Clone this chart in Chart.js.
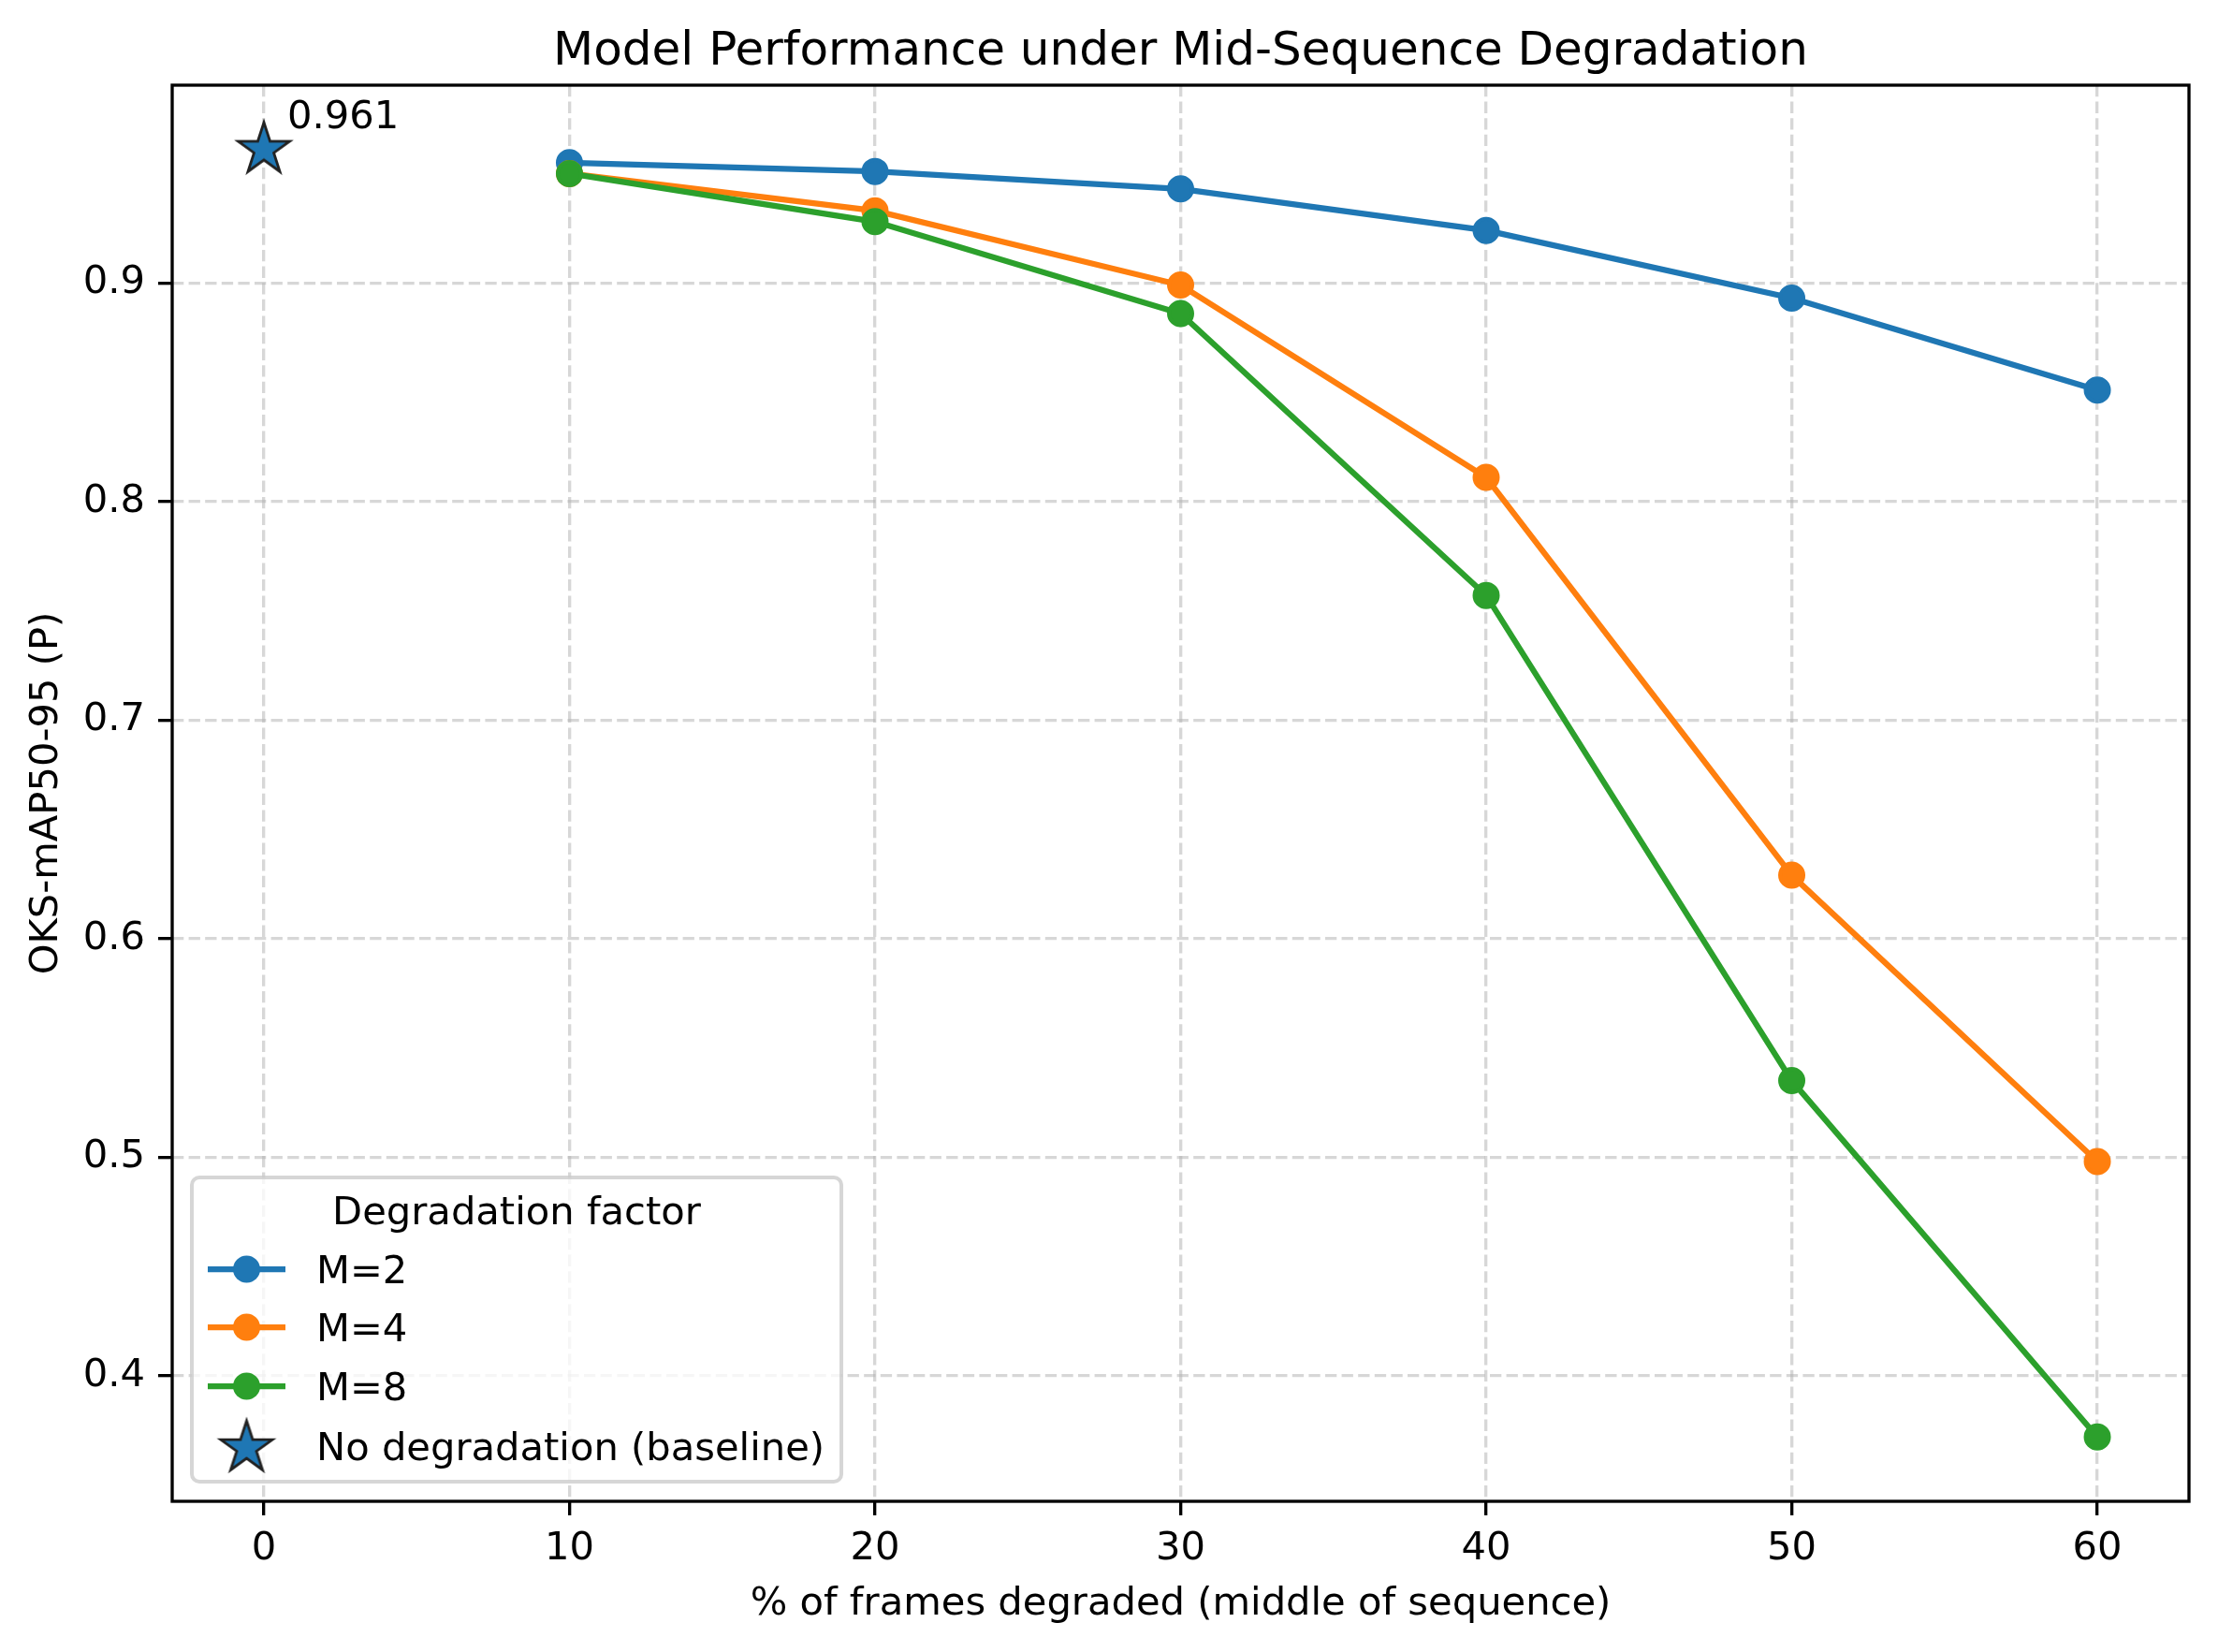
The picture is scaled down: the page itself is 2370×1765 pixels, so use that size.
<!DOCTYPE html>
<html>
<head>
<meta charset="utf-8">
<title>Model Performance under Mid-Sequence Degradation</title>
<script src="https://cdn.jsdelivr.net/npm/chart.js@4.4.0/dist/chart.umd.min.js"></script>
<style>
  html, body { margin: 0; padding: 0; background: #fff; }
</style>
</head>
<body>
<canvas id="canvas" width="2370" height="1765"></canvas>
<script>
  // data
  const degradedPct = [10, 20, 30, 40, 50, 60];
  const m2Scores = [0.955, 0.951, 0.943, 0.924, 0.893, 0.851];
  const m4Scores = [0.950, 0.933, 0.899, 0.811, 0.629, 0.498];
  const m8Scores = [0.950, 0.928, 0.886, 0.757, 0.535, 0.372];
  const baselineX = 0;
  const baselineY = 0.961;
  const xTicks = [0, 10, 20, 30, 40, 50, 60];
  const yTicks = [0.4, 0.5, 0.6, 0.7, 0.8, 0.9];
  const seriesLabels = ['M=2', 'M=4', 'M=8'];
  const baselineLabelText = 'No degradation (baseline)';
  const legendTitle = 'Degradation factor';
  const chartTitle = 'Model Performance under Mid-Sequence Degradation';

  const FONT = '"DejaVu Sans", "Liberation Sans", sans-serif';
  const FS = 41.67; // 10pt at 300 dpi
  Chart.defaults.font.family = FONT;
  Chart.defaults.color = '#000';

  // filled 5 point star, like the matplotlib '*' marker
  function makeStar(R, fill, edge, lw) {
    const size = Math.ceil(2 * (R + lw * 2 + 2));
    const c = document.createElement('canvas');
    c.width = size;
    c.height = size;
    const g = c.getContext('2d');
    const cx = size / 2, cy = size / 2, r = R * 0.381966;
    g.beginPath();
    for (let i = 0; i < 10; i++) {
      const rad = i % 2 === 0 ? R : r;
      const a = -Math.PI / 2 + i * Math.PI / 5;
      const px = cx + rad * Math.cos(a), py = cy + rad * Math.sin(a);
      if (i === 0) g.moveTo(px, py); else g.lineTo(px, py);
    }
    g.closePath();
    g.fillStyle = fill;
    g.fill();
    g.lineJoin = 'miter';
    g.lineWidth = lw;
    g.strokeStyle = edge;
    g.stroke();
    return c;
  }
  const starImg = makeStar(29, '#1f77b4', '#222222', 2.8);

  const colors = ['#1f77b4', '#ff7f0e', '#2ca02c'];
  const toPoints = (ys) => degradedPct.map((x, i) => ({ x: x, y: ys[i] }));

  function lineSet(label, ys, color, order) {
    return {
      label: label,
      data: toPoints(ys),
      borderColor: color,
      backgroundColor: color,
      borderWidth: 6.25,
      pointRadius: 12.5,
      pointBorderWidth: 4,
      pointBackgroundColor: color,
      pointBorderColor: color,
      tension: 0,
      fill: false,
      order: order,
    };
  }

  const datasets = [
    lineSet(seriesLabels[0], m2Scores, colors[0], 3),
    lineSet(seriesLabels[1], m4Scores, colors[1], 2),
    lineSet(seriesLabels[2], m8Scores, colors[2], 1),
    {
      label: baselineLabelText,
      data: [{ x: baselineX, y: baselineY }],
      showLine: false,
      pointStyle: starImg,
      pointRadius: 30,
      backgroundColor: colors[0],
      borderColor: '#222222',
      order: 0,
    },
  ];

  // axes box (all four spines), title over the plot, value note next to the star
  const frameAndNote = {
    id: 'frameAndNote',
    afterDatasetsDraw(chart) {
      const ctx = chart.ctx;
      const a = chart.chartArea;
      ctx.save();
      ctx.lineWidth = 3.33;
      ctx.strokeStyle = '#000';
      ctx.strokeRect(a.left, a.top, a.right - a.left, a.bottom - a.top);

      ctx.fillStyle = '#000';
      ctx.textBaseline = 'alphabetic';
      ctx.font = '50px ' + FONT;
      ctx.textAlign = 'center';
      ctx.fillText(chartTitle, (a.left + a.right) / 2, a.top - 22);

      const px = chart.scales.x.getPixelForValue(baselineX);
      const py = chart.scales.y.getPixelForValue(baselineY);
      ctx.font = FS + 'px ' + FONT;
      ctx.textAlign = 'left';
      ctx.fillText(baselineY.toFixed(3), px + 25, py - 23);
      ctx.restore();
    }
  };

  // legend drawn inside the plot, lower left
  const legendBox = {
    id: 'legendBox',
    afterDraw(chart) {
      const ctx = chart.ctx;
      const a = chart.chartArea;
      ctx.save();
      ctx.font = FS + 'px ' + FONT;
      let maxW = ctx.measureText(legendTitle).width;
      chart.data.datasets.forEach(ds => {
        maxW = Math.max(maxW, ctx.measureText(ds.label).width);
      });
      const w = 133 + maxW + 18;
      const h = 325;
      const left = a.left + 21;
      const top = a.bottom - 21 - h;

      ctx.beginPath();
      ctx.roundRect(left, top, w, h, 8);
      ctx.fillStyle = 'rgba(255,255,255,0.8)';
      ctx.fill();
      ctx.lineWidth = 4;
      ctx.strokeStyle = 'rgba(204,204,204,0.8)';
      ctx.stroke();

      ctx.fillStyle = '#000';
      ctx.textBaseline = 'alphabetic';
      ctx.textAlign = 'center';
      ctx.fillText(legendTitle, left + w / 2, top + 50);

      const rows = [98, 160, 223, 287];
      ctx.textAlign = 'left';
      chart.data.datasets.forEach((ds, i) => {
        const cy = top + rows[i];
        if (ds.showLine === false) {
          ctx.drawImage(starImg, left + 58.5 - starImg.width / 2, cy + 2 - starImg.height / 2);
        } else {
          ctx.strokeStyle = ds.borderColor;
          ctx.lineWidth = ds.borderWidth;
          ctx.beginPath();
          ctx.moveTo(left + 17, cy);
          ctx.lineTo(left + 100, cy);
          ctx.stroke();
          ctx.fillStyle = ds.pointBackgroundColor;
          ctx.beginPath();
          ctx.arc(left + 58.5, cy, ds.pointRadius + ds.pointBorderWidth / 2, 0, Math.PI * 2);
          ctx.fill();
        }
        ctx.fillStyle = '#000';
        ctx.fillText(ds.label, left + 133, cy + 15);
      });
      ctx.restore();
    }
  };

  const gridOpts = {
    color: 'rgba(176,176,176,0.5)',
    lineWidth: 3.33,
    tickLength: 15,
    tickColor: '#000',
    tickWidth: 3.33,
    tickBorderDash: [],
  };

  const canvas = document.getElementById('canvas');
  const chart = new Chart(canvas, {
    type: 'line',
    data: { datasets: datasets },
    options: {
      responsive: false,
      animation: false,
      devicePixelRatio: 1,
      layout: { padding: { left: 0, right: 30, top: 91, bottom: 0 } },
      plugins: {
        legend: { display: false },
        tooltip: { enabled: false },
        title: { display: false },
      },
      scales: {
        x: {
          type: 'linear',
          min: -3,
          max: 63,
          afterBuildTicks: (axis) => { axis.ticks = xTicks.map(v => ({ value: v })); },
          afterFit: (axis) => { axis.height = 161; },
          ticks: {
            font: { size: FS },
            color: '#000',
            padding: 11,
            maxRotation: 0,
            autoSkip: false,
            callback: (v) => String(v),
          },
          grid: gridOpts,
          border: { display: false, dash: [12.3, 5.3] },
          title: {
            display: true,
            text: '% of frames degraded (middle of sequence)',
            color: '#000',
            font: { size: FS },
            padding: { top: 0, bottom: 26 },
          },
        },
        y: {
          type: 'linear',
          min: 0.34255,
          max: 0.99045,
          afterBuildTicks: (axis) => { axis.ticks = yTicks.map(v => ({ value: v })); },
          afterFit: (axis) => { axis.width = 184; },
          ticks: {
            font: { size: FS },
            color: '#000',
            padding: 14,
            autoSkip: false,
            callback: (v) => v.toFixed(1),
          },
          grid: gridOpts,
          border: { display: false, dash: [12.3, 5.3] },
          title: {
            display: true,
            text: 'OKS-mAP50-95 (P)',
            color: '#000',
            font: { size: FS },
            padding: { top: 25, bottom: 0 },
          },
        },
      },
    },
    plugins: [frameAndNote, legendBox],
  });
</script>
</body>
</html>
